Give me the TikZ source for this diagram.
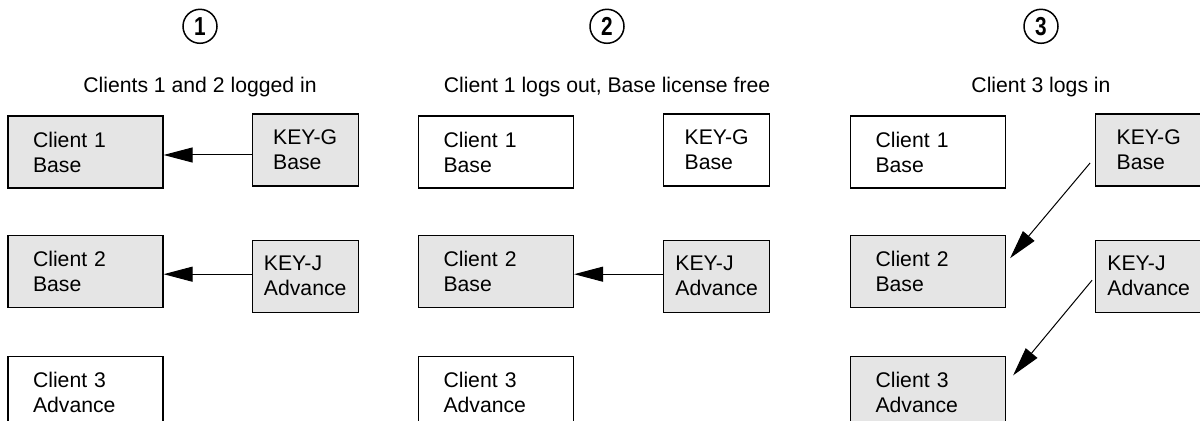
\documentclass[tikz,border=0pt]{standalone}
\usepackage{fontspec}
\setmainfont{Liberation Sans}
\newfontfamily\numfont[FakeStretch=0.8]{Liberation Sans}
\usepackage{tikz}
\usetikzlibrary{positioning, calc, arrows.meta}

\begin{document}
\begin{tikzpicture}[node distance=1cm, auto, font=\fontsize{10.6}{12.5}\selectfont]

\tikzstyle{client} = [rectangle, minimum width=77.5pt, minimum height=36pt, text width=52.5pt, inner xsep=12.5pt, align=left, draw=black, line width=0.6pt]
\tikzstyle{license} = [rectangle, minimum width=53pt, minimum height=36pt, align=left, draw=black, line width=0.6pt]
\tikzstyle{used} = [fill=black!10]
\tikzstyle{stagenum} = [circle, draw=black, line width=0.75pt, minimum size=17pt, inner sep=0pt, font=\numfont\bfseries\fontsize{13}{13}\selectfont]
\tikzstyle{arrow} = [line width=0.5pt, -{Triangle[length=14.5pt, width=7.5pt]}]

\useasboundingbox (0,0) rectangle (600pt,-210.5pt);

% stage 1
\node (heada) at (100pt,-43.5pt) {Clients 1 and 2 logged in};
\node (numa) [stagenum, above=13pt of heada] {1};
\node (cli1a) [client, used] at (42.75pt,-76pt) {Client 1\\Base};
\node (cli2a) [client, used, below=23pt of cli1a] {Client 2\\Base};
\node (cli3a) [client, below=24pt of cli2a] {Client 3\\Advance};
\node (keyga) [license, used, right=44pt of cli1a, yshift=1pt] {KEY-G\\Base};
\node (keyja) [license, used, below=26.5pt of keyga] {KEY-J\\Advance};

% stage 2
\node (headb) at (303.5pt,-43.5pt) {Client 1 logs out, Base license free};
\node (numb) [stagenum, above=13pt of headb] {2};
\node (cli1b) [client] at (248pt,-76pt) {Client 1\\Base};
\node (cli2b) [client, used, below=23pt of cli1b] {Client 2\\Base};
\node (cli3b) [client, below=24pt of cli2b] {Client 3\\Advance};
\node (keygb) [license, right=44.5pt of cli1b, yshift=1pt] {KEY-G\\Base};
\node (keyjb) [license, used, below=26.5pt of keygb] {KEY-J\\Advance};

% stage 3
\node (headc) at (520.5pt,-43.5pt) {Client 3 logs in};
\node (numc) [stagenum, above=13pt of headc] {3};
\node (cli1c) [client] at (464pt,-76pt) {Client 1\\Base};
\node (cli2c) [client, used, below=23pt of cli1c] {Client 2\\Base};
\node (cli3c) [client, used, below=24pt of cli2c] {Client 3\\Advance};
\node (keygc) [license, used, right=44.5pt of cli1c, yshift=1pt] {KEY-G\\Base};
\node (keyjc) [license, used, below=26.5pt of keygc] {KEY-J\\Advance};

\draw [arrow] ($(keyga.west)+(0,-2.5pt)$) -- ($(cli1a.east)+(0,-1.5pt)$);
\draw [arrow] ($(keyja.west)+(0,1pt)$) -- ($(cli2a.east)+(0,-1.5pt)$);
\draw [arrow] ($(keyjb.west)+(0,1pt)$) -- ($(cli2b.east)+(0,-1.5pt)$);
\draw [arrow] ($(keygc.west)+(-2.5pt,-6.5pt)$) -- ($(cli2c.east)+(2pt,6.5pt)$);
\draw [arrow] ($(keyjc.west)+(-1.5pt,-2pt)$) -- ($(cli3c.east)+(3.5pt,8.5pt)$);
\end{tikzpicture}
\end{document}
